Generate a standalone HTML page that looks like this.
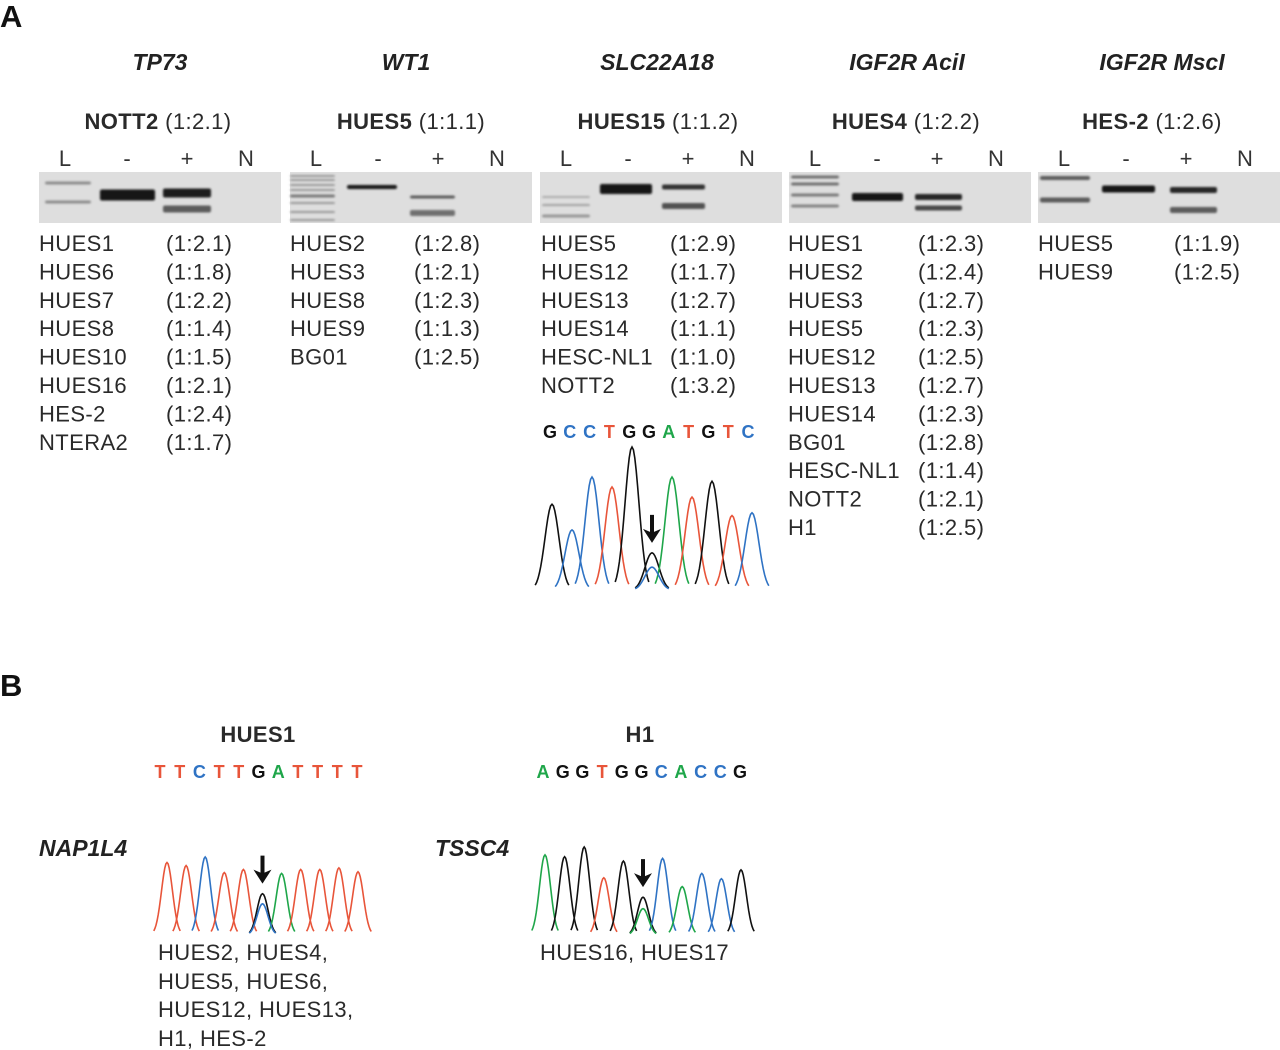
<!DOCTYPE html>
<html><head><meta charset="utf-8"><style>
html,body{margin:0;padding:0;background:#fff;}
svg{display:block;font-family:"Liberation Sans",Arial,sans-serif;}
.t{font-size:22px;fill:#2a2a2a;letter-spacing:0.4px;}
.ti{font-size:23px;font-weight:bold;font-style:italic;fill:#222;}
.sb{font-weight:bold;}
.lane{font-size:22px;fill:#333;}
.seq{font-family:"Liberation Sans",sans-serif;font-weight:bold;font-size:18px;}
</style></head><body>
<svg id="fig" width="1280" height="1050" viewBox="0 0 1280 1050">
<defs><filter id="bl" x="-10%" y="-100%" width="120%" height="300%"><feGaussianBlur stdDeviation="1"/></filter></defs>
<text x="0" y="27" font-size="31" font-weight="bold" fill="#111">A</text>
<text x="0" y="696" font-size="31" font-weight="bold" fill="#111">B</text>

<g>
<text class="ti" x="160" y="70" text-anchor="middle">TP73</text>
<text class="ti" x="406" y="70" text-anchor="middle">WT1</text>
<text class="ti" x="657" y="70" text-anchor="middle">SLC22A18</text>
<text class="ti" x="907" y="70" text-anchor="middle">IGF2R AciI</text>
<text class="ti" x="1162" y="70" text-anchor="middle">IGF2R MscI</text>
</g>
<g class="t">
<text class="t" x="158" y="129" text-anchor="middle"><tspan class="sb">NOTT2</tspan> (1:2.1)</text>
<text class="t" x="411" y="129" text-anchor="middle"><tspan class="sb">HUES5</tspan> (1:1.1)</text>
<text class="t" x="658" y="129" text-anchor="middle"><tspan class="sb">HUES15</tspan> (1:1.2)</text>
<text class="t" x="906" y="129" text-anchor="middle"><tspan class="sb">HUES4</tspan> (1:2.2)</text>
<text class="t" x="1152" y="129" text-anchor="middle"><tspan class="sb">HES-2</tspan> (1:2.6)</text>
</g>
<g id="gels"></g>
<g id="lists"></g>
<g id="chromA"></g>

<text class="t sb" x="258" y="742" text-anchor="middle" font-weight="bold">HUES1</text>
<text class="t" x="640" y="742" text-anchor="middle" font-weight="bold">H1</text>
<text class="ti" x="39" y="856">NAP1L4</text>
<text class="ti" x="435" y="856">TSSC4</text>
<g id="chromB1"></g>
<g id="chromB2"></g>
<g class="t">
<text class="t" x="158" y="960">HUES2, HUES4,</text>
<text class="t" x="158" y="989">HUES5, HUES6,</text>
<text class="t" x="158" y="1017">HUES12, HUES13,</text>
<text class="t" x="158" y="1046">H1, HES-2</text>
</g>
<text class="t" x="540" y="960">HUES16, HUES17</text>
</svg>
<script>
const NS='http://www.w3.org/2000/svg';
function mk(tag,attrs,parent){const e=document.createElementNS(NS,tag);for(const k in attrs)e.setAttribute(k,attrs[k]);parent.appendChild(e);return e;}
const COL={A:'#1fa64a',C:'#2f73c4',G:'#111',T:'#e8553a'};

// ---- lists ----
const listNames=[
 ['HUES1','HUES6','HUES7','HUES8','HUES10','HUES16','HES-2','NTERA2'],
 ['HUES2','HUES3','HUES8','HUES9','BG01'],
 ['HUES5','HUES12','HUES13','HUES14','HESC-NL1','NOTT2'],
 ['HUES1','HUES2','HUES3','HUES5','HUES12','HUES13','HUES14','BG01','HESC-NL1','NOTT2','H1'],
 ['HUES5','HUES9']];
const listRatios=[
 ['(1:2.1)','(1:1.8)','(1:2.2)','(1:1.4)','(1:1.5)','(1:2.1)','(1:2.4)','(1:1.7)'],
 ['(1:2.8)','(1:2.1)','(1:2.3)','(1:1.3)','(1:2.5)'],
 ['(1:2.9)','(1:1.7)','(1:2.7)','(1:1.1)','(1:1.0)','(1:3.2)'],
 ['(1:2.3)','(1:2.4)','(1:2.7)','(1:2.3)','(1:2.5)','(1:2.7)','(1:2.3)','(1:2.8)','(1:1.4)','(1:2.1)','(1:2.5)'],
 ['(1:1.9)','(1:2.5)']];
const colX=[39,290,541,788,1038], ratX=[166,414,670,918,1174];
const lists=document.getElementById('lists');
listNames.forEach((arr,c)=>arr.forEach((n,i)=>{
  const y=251+i*28.4;
  const a=mk('text',{x:colX[c],y:y,class:'t'},lists);a.textContent=n;
  
  
  const b=mk('text',{x:ratX[c],y:y,class:'t'},lists);b.textContent=listRatios[c][i];
  
  
}));

// ---- gels ----
const gels=document.getElementById('gels');
const gelX=[39,290,540,789,1038];
const laneLbl=['L','-','+','N'], laneOff=[26,88,148,207];
// bands: [gel, x0, x1, y, thickness, darkness]
const bands=[
 [0,6,52,183,3,0.4],[0,6,52,202,3,0.4],[0,61,116,195,11,1],[0,124,172,193,9,0.95],[0,124,172,209,7,0.65],
 [1,0,45,176,2,0.35],[1,0,45,180,2,0.35],[1,0,45,185,2,0.35],[1,0,45,190,2,0.35],[1,0,45,196,3,0.5],[1,0,45,203,2,0.35],[1,0,45,212,2,0.35],[1,0,45,220,2,0.35],
 [1,57,107,187,4,1],[1,120,165,197,3,0.65],[1,120,165,213,6,0.55],
 [2,2,50,197,2,0.25],[2,2,50,205,2,0.3],[2,2,50,216,3,0.35],[2,60,112,189,10,1],[2,122,165,187,5,0.85],[2,122,165,206,6,0.7],
 [3,2,50,177,3,0.55],[3,2,50,184,3,0.55],[3,2,50,195,3,0.5],[3,2,50,206,3,0.45],[3,63,114,197,8,1],[3,126,173,197,6,0.9],[3,126,173,208,5,0.75],
 [4,2,52,178,4,0.65],[4,2,52,200,5,0.65],[4,64,117,189,7,1],[4,132,179,190,6,0.9],[4,132,179,210,6,0.65]];
gelX.forEach((gx,g)=>{
  const r=mk('rect',{x:gx,y:172,width:242,height:51,fill:'#dedede'},gels);
  
  
  laneLbl.forEach((l,i)=>{const t=mk('text',{x:gx+laneOff[i],y:166,class:'lane','text-anchor':'middle'},gels);t.textContent=l;
    
    });
});
bands.forEach(b=>{
  const c=Math.round(222-(222-20)*b[5]);
  const e=mk('rect',{x:gelX[b[0]]+b[1],y:b[3]-b[4]/2,width:b[2]-b[1],height:b[4],rx:2,fill:`rgb(${c},${c},${c})`,filter:'url(#bl)'},gels);
  
  
});

// ---- chromatograms ----
function chrom(gid,seq,seqX,seqY,bases,heights,extraIdx,extraH,extraBase,x0,x1,base,hmax,sig){
  const g=document.getElementById(gid);
  const n=bases.length, step=(x1-x0)/(n-1);
  const sx=i=>x0+i*step;
  const sy=h=>base-h*hmax;
  const sstep=(seqX[1]-seqX[0])/(seq.length-1);
  [...seq].forEach((ch,i)=>{const t=mk('text',{x:seqX[0]+i*sstep,y:seqY,class:'seq','text-anchor':'middle',fill:COL[ch]},g);t.textContent=ch;
    
    });
  function peak(cx,h,color){
    let d='';for(let k=-2.4;k<=2.4;k+=0.2){const x=cx+k*sig;const y=sy(h*Math.exp(-k*k/2));d+=(d?'L':'M')+x.toFixed(1)+' '+y.toFixed(1);}
    const p=mk('path',{d:d,fill:'none',stroke:color,'stroke-width':1.6},g);
    
    
  }
  bases.forEach((b,i)=>peak(sx(i),heights[i],COL[b]));
  peak(sx(extraIdx),extraH,COL[extraBase]);
  const ax=sx(extraIdx), ay=sy(heights[extraIdx])-10;
  const ar=mk('path',{d:`M${ax} ${ay} L${ax-9} ${ay-14} L${ax-2} ${ay-11} L${ax-2} ${ay-28} L${ax+2} ${ay-28} L${ax+2} ${ay-11} L${ax+9} ${ay-14}Z`,fill:'#111'},g);
  
  
}
const slcSeq='GCCTGGATGTC';
const slcBases=['G','C','C','T','G','G','A','T','G','T','C'];
const slcHeights=[0.60,0.42,0.79,0.72,1.0,0.26,0.79,0.65,0.76,0.52,0.54];
chrom('chromA',slcSeq,[550,748],438,slcBases,slcHeights,5,0.16,'C',552,752,590,143,7);
const napSeq='TTCTTGATTTT';
const napBases=['T','T','C','T','T','G','A','T','T','T','T'];
const napHeights=[0.93,0.89,1.0,0.80,0.84,0.53,0.79,0.84,0.84,0.86,0.81];
chrom('chromB1',napSeq,[160,357],778,napBases,napHeights,5,0.40,'C',167,358,935,78,5.5);
const tsSeq='AGGTGGCACCG';
const tsBases=['A','G','G','T','G','G','C','A','C','C','G'];
const tsHeights=[0.91,0.89,1.0,0.65,0.84,0.43,0.87,0.55,0.70,0.64,0.74];
chrom('chromB2',tsSeq,[543,740],778,tsBases,tsHeights,5,0.30,'A',545,741,935,88,5.5);
</script>
</body></html>
